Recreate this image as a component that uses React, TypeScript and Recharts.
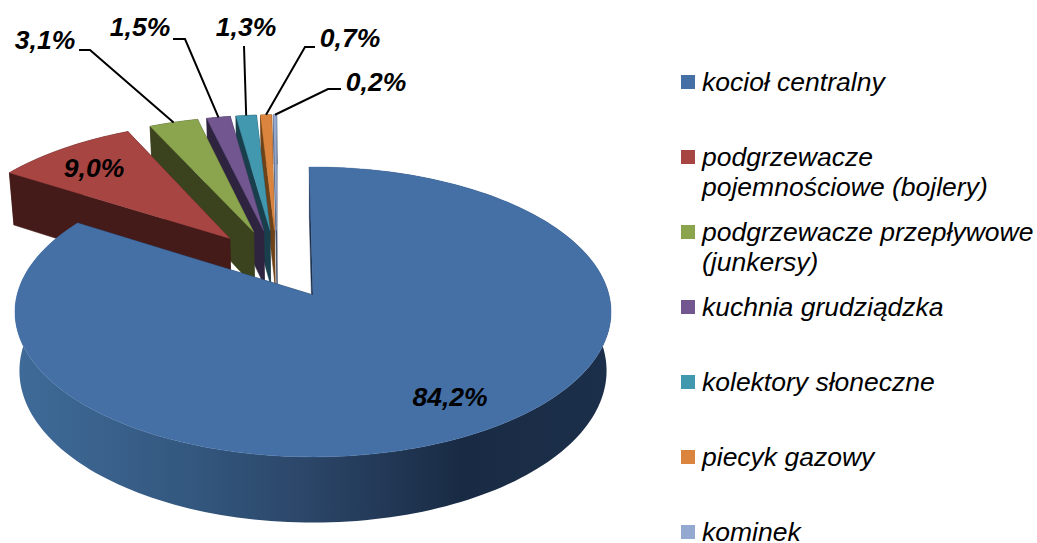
import React from 'react';
import { PieChart, Pie, Legend } from 'recharts';

const categories = [
  'kocioł centralny',
  'podgrzewacze\npojemnościowe (bojlery)',
  'podgrzewacze przepływowe\n(junkersy)',
  'kuchnia grudziądzka',
  'kolektory słoneczne',
  'piecyk gazowy',
  'kominek',
];
const shares = [84.2, 9.0, 3.1, 1.5, 1.3, 0.7, 0.2];
const faceColors = ['#4570A6', '#A74543', '#8AA54E', '#71568F', '#4198AF', '#DB843D', '#93A9CF'];
const wallColors = ['#1B2F4A', '#451B19', '#3A431E', '#2E2440', '#1A3F4C', '#6E4218', '#3C4A66'];

// Label placement, in page pixels: text centre and the elbow of the leader line.
const labelLayout: { text: [number, number]; elbow?: [number, number][] }[] = [
  { text: [450, 397] },
  { text: [94, 168] },
  { text: [45, 40], elbow: [[79, 50], [90, 50]] },
  { text: [140, 27], elbow: [[173, 39], [185, 39]] },
  { text: [246, 27], elbow: [[244, 46]] },
  { text: [350, 38], elbow: [[315, 47], [305, 47]] },
  { text: [376, 82], elbow: [[341, 89], [328, 89]] },
];

const CX = 313;
const CY = 295;
const RADIUS = 296;
const START_ANGLE = 90.8;
const SQUASH = 0.483; // vertical foreshortening
const PERSPECTIVE = 0.117;
const DEPTH = 58;
const BOTTOM_SCALE = 0.985;
const EXPLODE = 0.256;

const FONT = '"Liberation Sans", Arial, sans-serif';

const total = shares.reduce((a, b) => a + b, 0);
// Reversed so the small rear slices are painted first and the big front slice last.
const pieData = categories
  .map((name, i) => ({ name, value: shares[i], fill: faceColors[i], wall: wallColors[i], idx: i }))
  .reverse();

const rad = (d: number) => (d * Math.PI) / 180;
// Direction of the main slice, the frame in which the picture is projected.
const leadMid = START_ANGLE - (360 * (shares[0] / total)) / 2;
const leadDir: [number, number] = [Math.cos(rad(leadMid)), -Math.sin(rad(leadMid))];

function proj(u: number, v: number, low: boolean, r: number, cx: number, cy: number): [number, number] {
  const s = 1 / (1 - PERSPECTIVE * v);
  const x = r * u * s;
  const y = r * SQUASH * v * s;
  return low ? [cx + x * BOTTOM_SCALE, cy + y + DEPTH * s] : [cx + x, cy + y];
}

function sliceOrigin(mid: number): [number, number] {
  return [
    EXPLODE * (Math.cos(rad(mid)) - leadDir[0]),
    EXPLODE * (-Math.sin(rad(mid)) - leadDir[1]),
  ];
}

const toPath = (pts: [number, number][]) =>
  'M' + pts.map((p) => `${p[0].toFixed(2)},${p[1].toFixed(2)}`).join('L') + 'Z';

function SliceShape(props: any) {
  const { cx, cy, outerRadius, startAngle, endAngle, payload } = props;
  const entry = payload?.payload ?? payload;
  const idx: number = entry.idx;
  const a0 = Math.min(startAngle, endAngle);
  const a1 = Math.max(startAngle, endAngle);
  const mid = (a0 + a1) / 2;
  const [ox, oy] = idx === 0 ? [0, 0] : sliceOrigin(mid);
  const n = Math.max(2, Math.ceil((a1 - a0) / 1.5));
  const top: [number, number][] = [];
  const low: [number, number][] = [];
  for (let i = 0; i <= n; i++) {
    const a = rad(a0 + ((a1 - a0) * i) / n);
    const u = ox + Math.cos(a);
    const v = oy - Math.sin(a);
    top.push(proj(u, v, false, outerRadius, cx, cy));
    low.push(proj(u, v, true, outerRadius, cx, cy));
  }
  const apexT = proj(ox, oy, false, outerRadius, cx, cy);
  const apexL = proj(ox, oy, true, outerRadius, cx, cy);
  const rimFill = idx === 0 ? 'url(#leadWall)' : entry.wall;
  const rimStroke = idx === 0 ? 'none' : entry.wall;
  return (
    <g>
      {idx === 0 && (
        <defs>
          <linearGradient id="leadWall" gradientUnits="userSpaceOnUse" x1={15} x2={610} y1={0} y2={0}>
            <stop offset="0" stopColor="#3F6B99" />
            <stop offset="0.3" stopColor="#33577E" />
            <stop offset="0.5" stopColor="#2B4567" />
            <stop offset="0.75" stopColor="#192B44" />
            <stop offset="1" stopColor="#1C2F4A" />
          </linearGradient>
        </defs>
      )}
      <path d={toPath([apexT, top[0], low[0], apexL])} fill={entry.wall} stroke={entry.wall} strokeWidth={0.5} />
      <path d={toPath([apexT, top[n], low[n], apexL])} fill={entry.wall} stroke={entry.wall} strokeWidth={0.5} />
      <path d={toPath([...top, ...low.slice().reverse()])} fill={rimFill} stroke={rimStroke} strokeWidth={0.5} />
      <path d={toPath([apexT, ...top])} fill={entry.fill} stroke={entry.fill} strokeWidth={0.4} />
    </g>
  );
}

function SliceLabel(props: any) {
  const { cx, cy, outerRadius, startAngle, endAngle, payload } = props;
  const entry = payload?.payload ?? payload;
  const idx: number = entry.idx;
  const layout = labelLayout[idx];
  const mid = (startAngle + endAngle) / 2;
  let line: React.ReactNode = null;
  if (layout.elbow) {
    const [ox, oy] = sliceOrigin(mid);
    const a = rad(mid);
    const anchor = proj(ox + Math.cos(a), oy - Math.sin(a), false, outerRadius, cx, cy);
    const pts = [...layout.elbow, anchor];
    line = (
      <polyline
        points={pts.map((p) => p.join(',')).join(' ')}
        fill="none"
        stroke="#000"
        strokeWidth={2}
      />
    );
  }
  return (
    <g>
      {line}
      <text
        x={layout.text[0]}
        y={layout.text[1]}
        textAnchor="middle"
        dominantBaseline="central"
        fontFamily={FONT}
        fontSize={26.5}
        fontWeight="bold"
        fontStyle="italic"
        fill="#000"
      >
        {shares[idx].toFixed(1).replace('.', ',')}%
      </text>
    </g>
  );
}

function LegendBox() {
  return (
    <div style={{ fontFamily: FONT, fontStyle: 'italic', fontSize: 26.5, lineHeight: '30px', color: '#000' }}>
      {categories.map((name, i) => (
        <div key={name} style={{ position: 'absolute', left: 0, top: i * 75, whiteSpace: 'nowrap' }}>
          <span
            style={{
              position: 'absolute',
              left: 0,
              top: 0,
              width: 14,
              height: 14,
              background: faceColors[i],
            }}
          />
          <div style={{ position: 'absolute', left: 21, top: -8 }}>
            {name.split('\n').map((part) => (
              <div key={part}>{part}</div>
            ))}
          </div>
        </div>
      ))}
    </div>
  );
}

export default function App() {
  return (
    <div style={{ position: 'absolute', left: 0, top: 0, width: 1037, height: 543, background: '#fff', overflow: 'hidden' }}>
      <PieChart width={1037} height={543} margin={{ top: 0, right: 0, bottom: 0, left: 0 }}>
        <Pie
          data={pieData}
          dataKey="value"
          nameKey="name"
          cx={CX}
          cy={CY}
          innerRadius={0}
          outerRadius={RADIUS}
          startAngle={START_ANGLE}
          endAngle={START_ANGLE + 360}
          stroke="none"
          isAnimationActive={false}
          shape={SliceShape as any}
          activeShape={SliceShape as any}
          inactiveShape={SliceShape as any}
          label={SliceLabel as any}
          labelLine={false}
        />
        <Legend
          content={<LegendBox />}
          wrapperStyle={{ position: 'absolute', left: 681, top: 75, width: 356, height: 0, margin: 0 }}
        />
      </PieChart>
    </div>
  );
}
